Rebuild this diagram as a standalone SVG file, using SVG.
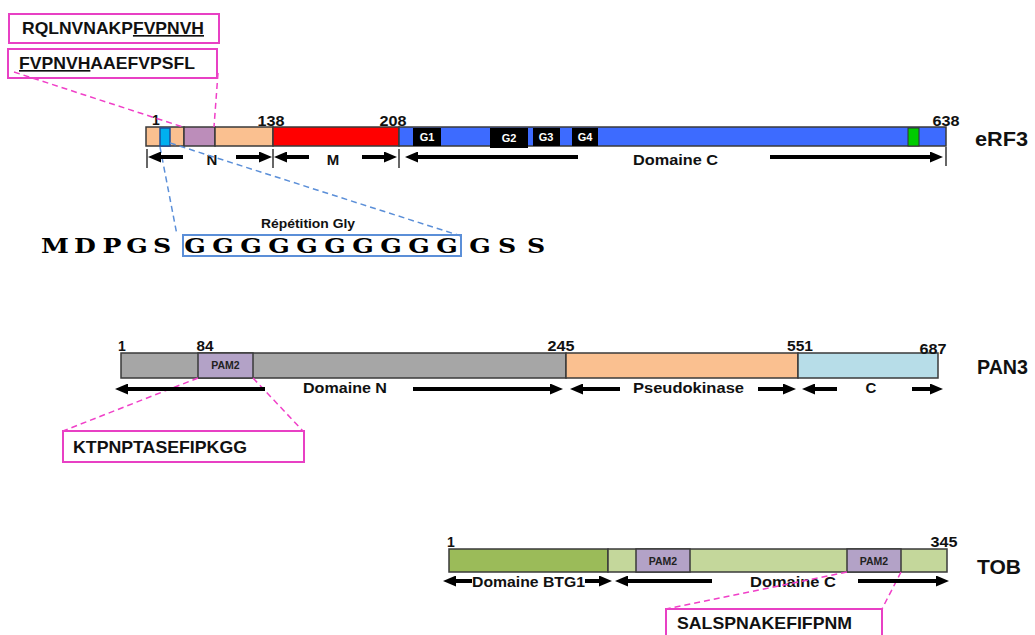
<svg xmlns="http://www.w3.org/2000/svg" width="1035" height="635" viewBox="0 0 1035 635">
<style>
text{font-family:"Liberation Sans",Arial,sans-serif;font-weight:bold;fill:#111}
.num{font-size:14px;text-anchor:middle}
.lbl{font-size:15px;text-anchor:middle}
.name{font-size:21px}
.g{font-size:11px;fill:#fff;text-anchor:middle}
.pam{font-size:10.5px;fill:#222;text-anchor:middle}
.seqbox{fill:#fff;stroke:#E840C4;stroke-width:2}
.seqtxt{font-size:16.5px}
.seg{stroke:#3a3a3a;stroke-width:1.5}
.pink{fill:none;stroke:#F040C8;stroke-width:1.5;stroke-dasharray:6 4}
.blue{fill:none;stroke:#5B8FD8;stroke-width:1.5;stroke-dasharray:6 4}
.arr{fill:none;stroke:#000;stroke-width:4;marker-end:url(#ah)}
.tick{stroke:#000;stroke-width:1.2}
.aa{font-family:"DejaVu Serif",serif;font-weight:bold;font-size:21px;text-anchor:middle;fill:#000}
</style>
<defs>
<marker id="ah" markerUnits="userSpaceOnUse" markerWidth="13" markerHeight="11" refX="3" refY="5.5" orient="auto">
<path d="M0,0 L13,5.5 L0,11 z" fill="#000"/>
</marker>
</defs>
<rect width="1035" height="635" fill="#fff"/>

<g id="box-rql">
<rect class="seqbox" x="9" y="14" width="210" height="29"/>
<text class="seqtxt" x="22" y="34" textLength="182" lengthAdjust="spacingAndGlyphs">RQLNVNAKP<tspan text-decoration="underline">FVPNVH</tspan></text>
</g>
<g id="box-fvp">
<rect class="seqbox" x="8" y="49" width="209" height="29"/>
<text class="seqtxt" x="19" y="69" textLength="176" lengthAdjust="spacingAndGlyphs"><tspan text-decoration="underline">FVPNVH</tspan>AAEFVPSFL</text>
</g>

<g id="erf3">
<rect class="seg" x="146" y="127" width="38" height="19" fill="#FAC090"/>
<rect x="160" y="128" width="10" height="18" fill="#00B0F0" stroke="#1F4E99" stroke-width="1.5"/>
<rect class="seg" x="184" y="127" width="31" height="19" fill="#BC8DBA"/>
<rect class="seg" x="215" y="127" width="58" height="19" fill="#FAC090"/>
<rect class="seg" x="273" y="127" width="126" height="19" fill="#FF0000"/>
<rect class="seg" x="399" y="127" width="547" height="19" fill="#3D6BFF"/>
<rect x="413" y="128" width="28" height="18" fill="#000"/>
<rect x="490" y="128" width="38" height="20" fill="#000"/>
<rect x="533" y="128" width="27" height="18" fill="#000"/>
<rect x="572" y="128" width="26" height="18" fill="#000"/>
<rect x="908" y="128" width="11" height="18" fill="#00CC00" stroke="#333" stroke-width="1"/>
<text class="g" x="427" y="141">G1</text>
<text class="g" x="509" y="142">G2</text>
<text class="g" x="546" y="141">G3</text>
<text class="g" x="585" y="141">G4</text>
<text class="num" x="156" y="125">1</text>
<text class="num" x="271" y="126" textLength="27" lengthAdjust="spacingAndGlyphs">138</text>
<text class="num" x="393" y="126" textLength="27" lengthAdjust="spacingAndGlyphs">208</text>
<text class="num" x="946" y="126" textLength="27" lengthAdjust="spacingAndGlyphs">638</text>
<text class="lbl" x="212" y="165">N</text>
<text class="lbl" x="333" y="165">M</text>
<text class="lbl" x="675.5" y="165" textLength="85" lengthAdjust="spacingAndGlyphs">Domaine C</text>
<text class="name" x="975" y="146" textLength="53" lengthAdjust="spacingAndGlyphs">eRF3</text>
</g>

<g id="gly-repeat">
<text x="308" y="228" font-size="13.5" text-anchor="middle" textLength="94" lengthAdjust="spacingAndGlyphs">Répétition Gly</text>
<rect x="183" y="235" width="278" height="21" fill="none" stroke="#5B8FD8" stroke-width="2"/>
<g transform="scale(1.2 1)">
<text class="aa" x="45.8 70.8 93.3 114.2 135 162.5 185.8 209.2 232.5 255.8 279.2 302.5 325.8 349.2 372.5 400 422.5 446.7" y="253">MDPGSGGGGGGGGGGGSS</text>
</g>
</g>

<g id="pan3">
<rect class="seg" x="121" y="353" width="445" height="25" fill="#A6A6A6"/>
<rect class="seg" x="198" y="353" width="55" height="25" fill="#B3A2C7"/>
<rect class="seg" x="566" y="353" width="232" height="25" fill="#FAC090"/>
<rect class="seg" x="798" y="353" width="140" height="25" fill="#B7DDE8"/>
<text class="pam" x="225.5" y="369">PAM2</text>
<text class="num" x="122" y="351">1</text>
<text class="num" x="205" y="351" textLength="17" lengthAdjust="spacingAndGlyphs">84</text>
<text class="num" x="561" y="351" textLength="27" lengthAdjust="spacingAndGlyphs">245</text>
<text class="num" x="800" y="351" textLength="26" lengthAdjust="spacingAndGlyphs">551</text>
<text class="num" x="933" y="354" textLength="27" lengthAdjust="spacingAndGlyphs">687</text>
<text class="lbl" x="345" y="393" textLength="84" lengthAdjust="spacingAndGlyphs">Domaine N</text>
<text class="lbl" x="688.5" y="393" textLength="111" lengthAdjust="spacingAndGlyphs">Pseudokinase</text>
<text class="lbl" x="871" y="393">C</text>
<text class="name" x="977" y="374" textLength="51" lengthAdjust="spacingAndGlyphs">PAN3</text>
</g>

<g id="box-ktp">
<rect class="seqbox" x="63" y="431" width="241" height="31"/>
<text class="seqtxt" x="73" y="453" textLength="174" lengthAdjust="spacingAndGlyphs">KTPNPTASEFIPKGG</text>
</g>

<g id="tob">
<rect class="seg" x="449" y="549" width="159" height="23" fill="#9BBB59"/>
<rect class="seg" x="608" y="549" width="339" height="23" fill="#C4D79B"/>
<rect class="seg" x="636" y="549" width="54" height="23" fill="#B3A2C7"/>
<rect class="seg" x="847" y="549" width="54" height="23" fill="#B3A2C7"/>
<text class="pam" x="663" y="565">PAM2</text>
<text class="pam" x="874" y="565">PAM2</text>
<text class="num" x="451" y="547">1</text>
<text class="num" x="944" y="547" textLength="27" lengthAdjust="spacingAndGlyphs">345</text>
<text class="lbl" x="528.5" y="587" textLength="113" lengthAdjust="spacingAndGlyphs">Domaine BTG1</text>
<text class="lbl" x="793" y="587" textLength="86" lengthAdjust="spacingAndGlyphs">Domaine C</text>
<text class="name" x="977" y="574" textLength="44" lengthAdjust="spacingAndGlyphs">TOB</text>
</g>

<g id="box-sal">
<rect class="seqbox" x="666" y="609" width="216" height="34"/>
<text class="seqtxt" x="677" y="629" textLength="175" lengthAdjust="spacingAndGlyphs">SALSPNAKEFIFPNM</text>
</g>

<g id="connectors">
<path class="pink" d="M14,72 L183,127"/>
<path class="pink" d="M218,73 L214,127"/>
<path class="blue" d="M160,147 L177,235"/>
<path class="blue" d="M170,143 L461,236"/>
<path class="pink" d="M198,378 L63,431"/>
<path class="pink" d="M253,378 L303,431"/>
<path class="pink" d="M847,572 L666,609"/>
<path class="pink" d="M901,572 L882,609"/>
<line class="tick" x1="147" y1="149" x2="147" y2="168"/>
<line class="tick" x1="273" y1="149" x2="273" y2="168"/>
<line class="tick" x1="399" y1="149" x2="399" y2="168"/>
<line class="tick" x1="946" y1="147" x2="946" y2="166"/>
<path class="arr" d="M183,157 H158"/>
<path class="arr" d="M236,157 H262"/>
<path class="arr" d="M309,157 H284"/>
<path class="arr" d="M362,157 H387"/>
<path class="arr" d="M578,157 H415"/>
<path class="arr" d="M770,157 H933"/>
<path class="arr" d="M265,389 H125"/>
<path class="arr" d="M413,389 H553"/>
<path class="arr" d="M620,389 H580"/>
<path class="arr" d="M758,389 H786"/>
<path class="arr" d="M837,389 H812"/>
<path class="arr" d="M912,389 H933"/>
<path class="arr" d="M472,581 H453"/>
<path class="arr" d="M585,581 H602"/>
<path class="arr" d="M712,581 H625"/>
<path class="arr" d="M858,581 H939"/>
</g>
</svg>
